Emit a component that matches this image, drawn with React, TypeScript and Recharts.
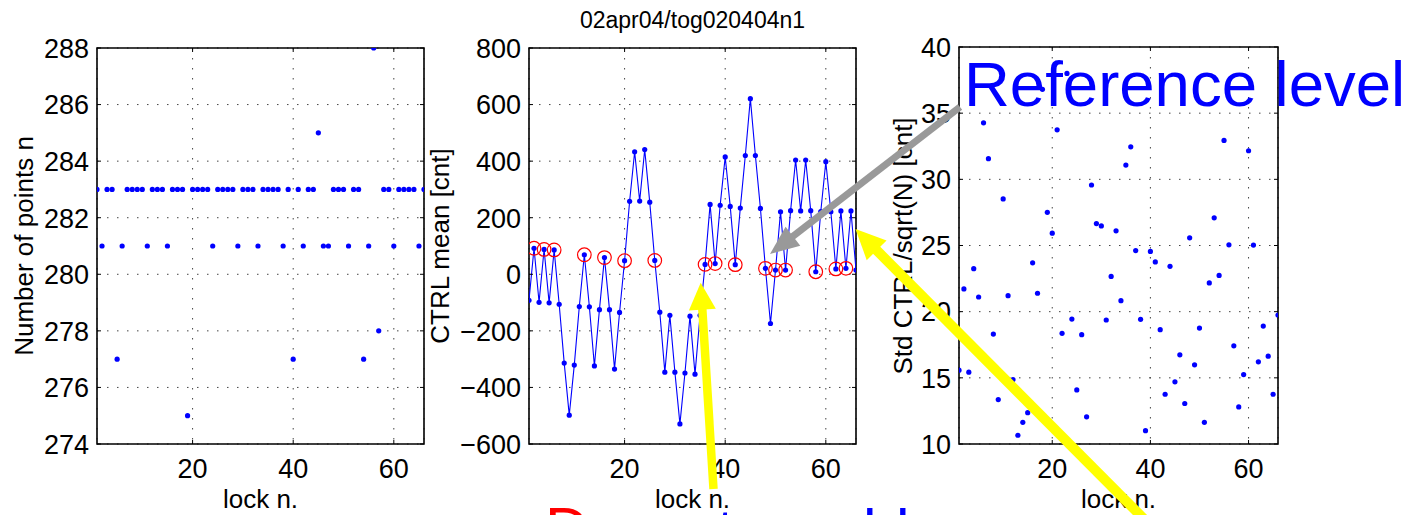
import React from 'react';
import { ComposedChart, Scatter, Line, XAxis, YAxis, CartesianGrid, ReferenceArea } from 'recharts';

const lockN = [1,2,3,4,5,6,7,8,9,10,11,12,13,14,15,16,17,18,19,20,21,22,23,24,25,26,27,28,29,30,31,32,33,34,35,36,37,38,39,40,41,42,43,44,45,46,47,48,49,50,51,52,53,54,55,56,57,58,59,60,61,62,63,64,65,66];

const pointsN = [283,281,283,283,277,281,283,283,283,283,281,283,283,283,281,283,283,283,275,283,283,283,283,281,283,283,283,283,281,283,283,283,281,283,283,283,283,281,283,277,283,281,283,283,285,281,281,283,283,283,281,283,283,277,281,288,278,283,283,281,283,283,283,283,281,283];

const ctrlMean = [-92,92,-99,88,-101,86,-106,-314,-498,-321,-114,69,-115,-324,-125,59,-125,-335,-135,48,258,433,259,441,255,49,-134,-346,-145,-346,-529,-349,-148,-353,-145,35,247,38,244,415,240,34,234,420,621,420,233,21,-174,15,221,15,225,404,224,404,225,9,222,398,221,19,224,21,224,15];

const stdCtrl = [15.58,21.72,15.43,23.25,21.11,34.27,31.56,18.31,13.36,28.52,21.21,14.87,10.66,11.64,12.37,23.69,21.39,36.8,27.51,25.93,33.74,18.36,38.0,19.44,14.09,18.26,12.05,29.57,26.66,26.48,19.37,22.66,26.11,20.83,31.08,32.46,24.62,19.42,11.01,24.55,23.76,18.64,13.76,23.43,14.7,16.74,13.06,25.58,15.98,18.76,11.64,22.17,27.09,22.74,32.94,25.05,17.42,12.8,15.25,32.16,25.03,16.21,18.91,16.64,13.76,19.75];

const refLocks = [2,4,6,12,16,20,26,36,38,42,48,50,52,58,62,64];

const xTicks = [20,40,60];
const nTicks = [274,276,278,280,282,284,286,288];
const ctrlTicks = [-600,-400,-200,0,200,400,600,800];
const stdTicks = [10,15,20,25,30,35,40];

const titleText = '02apr04/tog020404n1';
const xLabel = 'lock n.';
const nLabel = 'Number of points n';
const ctrlLabel = 'CTRL mean [cnt]';
const stdLabel = 'Std CTRL/sqrt(N) [cnt]';

const FONT = '"Liberation Sans", Arial, Helvetica, sans-serif';
const BLUE = '#0000ff';

const nData = lockN.map((l, i) => ({ lock: l, v: pointsN[i] }));
const ctrlData = lockN.map((l, i) => ({ lock: l, v: ctrlMean[i] }));
const refData = refLocks.map((l) => ({ lock: l, v: ctrlMean[lockN.indexOf(l)] }));
const stdData = lockN.map((l, i) => ({ lock: l, v: stdCtrl[i] }));

const fmt = (v: number) => (v < 0 ? '\u2212' + Math.abs(v) : String(v));

const makeXTick = (plotH: number) => (props: any) => {
  const { x, y, payload } = props;
  return (
    <g>
      <line x1={x} x2={x} y1={y} y2={y - 4} stroke="#000" strokeWidth={1} />
      <line x1={x} x2={x} y1={y - plotH} y2={y - plotH + 4} stroke="#000" strokeWidth={1} />
      <text x={x} y={y + 33.5} textAnchor="middle" fontSize={27} fontFamily={FONT} fill="#000">
        {fmt(payload.value)}
      </text>
    </g>
  );
};

const makeYTick = (plotW: number) => (props: any) => {
  const { x, y, payload } = props;
  return (
    <g>
      <line x1={x} x2={x + 4} y1={y} y2={y} stroke="#000" strokeWidth={1} />
      <line x1={x + plotW} x2={x + plotW - 4} y1={y} y2={y} stroke="#000" strokeWidth={1} />
      <text x={x - 8} y={y + 9.8} textAnchor="end" fontSize={27} fontFamily={FONT} fill="#000">
        {fmt(payload.value)}
      </text>
    </g>
  );
};

const dotShape = (p: any) => <circle cx={p.cx} cy={p.cy} r={2.6} fill={BLUE} />;
const ringShape = (p: any) => (
  <circle cx={p.cx} cy={p.cy} r={6.8} fill="none" stroke="#ff0000" strokeWidth={1.2} />
);

type PanelProps = {
  left: number;
  width: number;
  margin: { top: number; right: number; bottom: number; left: number };
  plotW: number;
  plotH: number;
  yDomain: [number, number];
  yTicks: number[];
  children: React.ReactNode;
};

const Panel = ({ left, width, margin, plotW, plotH, yDomain, yTicks, children }: PanelProps) => (
  <div style={{ position: 'absolute', left, top: 0, width, height: 515 }}>
    <ComposedChart width={width} height={515} margin={margin}>
      <CartesianGrid stroke="#444" strokeDasharray="1.5 8.5" strokeWidth={1} />
      <XAxis
        type="number"
        dataKey="lock"
        domain={[1, 66]}
        ticks={xTicks}
        interval={0}
        tickSize={0}
        tickMargin={0}
        axisLine={false}
        tickLine={false}
        height={30}
        tick={makeXTick(plotH)}
        allowDataOverflow
      />
      <YAxis
        type="number"
        domain={yDomain}
        ticks={yTicks}
        interval={0}
        tickSize={0}
        tickMargin={0}
        axisLine={false}
        tickLine={false}
        width={60}
        tick={makeYTick(plotW)}
        allowDataOverflow
      />
      <ReferenceArea
        x1={1}
        x2={66}
        y1={yDomain[0]}
        y2={yDomain[1]}
        fill="none"
        fillOpacity={0}
        stroke="#000"
        strokeWidth={1.6}
        ifOverflow="visible"
      />
      {children}
    </ComposedChart>
  </div>
);

const Arrow = ({ tail, tip, w, headLen, headHalf, color }: { tail: [number, number]; tip: [number, number]; w: number; headLen: number; headHalf: number; color: string }) => {
  const dx = tip[0] - tail[0];
  const dy = tip[1] - tail[1];
  const len = Math.sqrt(dx * dx + dy * dy);
  const ux = dx / len;
  const uy = dy / len;
  const bx = tip[0] - ux * headLen;
  const by = tip[1] - uy * headLen;
  const px = -uy;
  const py = ux;
  const pts = [
    [tip[0], tip[1]],
    [bx + px * headHalf, by + py * headHalf],
    [bx - px * headHalf, by - py * headHalf],
  ]
    .map((p) => p.join(','))
    .join(' ');
  return (
    <g>
      <line x1={tail[0]} y1={tail[1]} x2={bx + ux * 2} y2={by + uy * 2} stroke={color} strokeWidth={w} />
      <polygon points={pts} fill={color} />
    </g>
  );
};

export default function App() {
  return (
    <div style={{ position: 'absolute', left: 0, top: 0, width: 1416, height: 515, background: '#fff', overflow: 'hidden' }}>
      <Panel left={0} width={440} margin={{ top: 48, right: 16, bottom: 41, left: 37 }} plotW={327} plotH={396} yDomain={[274, 288]} yTicks={nTicks}>
        <Scatter data={nData} dataKey="v" shape={dotShape} isAnimationActive={false} />
      </Panel>
      <Panel left={440} width={440} margin={{ top: 48, right: 24, bottom: 41, left: 29 }} plotW={327} plotH={396} yDomain={[-600, 800]} yTicks={ctrlTicks}>
        <Line
          data={ctrlData}
          dataKey="v"
          type="linear"
          stroke={BLUE}
          strokeWidth={1.1}
          dot={{ r: 2.6, fill: BLUE, stroke: BLUE, strokeWidth: 0 }}
          activeDot={false}
          isAnimationActive={false}
        />
        <Scatter data={refData} dataKey="v" shape={ringShape} isAnimationActive={false} />
      </Panel>
      <Panel left={880} width={536} margin={{ top: 47, right: 138, bottom: 41, left: 19 }} plotW={319} plotH={397} yDomain={[10, 40]} yTicks={stdTicks}>
        <Scatter data={stdData} dataKey="v" shape={dotShape} isAnimationActive={false} />
      </Panel>

      <svg width={1416} height={515} style={{ position: 'absolute', left: 0, top: 0, pointerEvents: 'none' }}>
        <g fontFamily={FONT} fill="#000">
          <text x={692.5} y={28} fontSize={23} textAnchor="middle">{titleText}</text>
          <text x={260.5} y={507.5} fontSize={26} textAnchor="middle">{xLabel}</text>
          <text x={692.5} y={507.5} fontSize={26} textAnchor="middle">{xLabel}</text>
          <text x={1118.5} y={507.5} fontSize={26} textAnchor="middle">{xLabel}</text>
          <text x={33} y={246} fontSize={26} textAnchor="middle" transform="rotate(-90 33 246)">{nLabel}</text>
          <text x={449} y={246} fontSize={26} textAnchor="middle" transform="rotate(-90 449 246)">{ctrlLabel}</text>
          <text x={911.5} y={246} fontSize={26} textAnchor="middle" transform="rotate(-90 911.5 246)">{stdLabel}</text>
        </g>
        <Arrow tail={[960, 107]} tip={[770, 254]} w={7} headLen={29} headHalf={12} color="#999999" />
        <Arrow tail={[713.5, 489]} tip={[700.7, 282.7]} w={8.5} headLen={27} headHalf={13.5} color="#ffff00" />
        <Arrow tail={[1146, 521]} tip={[855.5, 229]} w={10} headLen={30} headHalf={14} color="#ffff00" />
        <text x={964} y={106} fontSize={63.5} fill={BLUE} fontFamily={FONT}>Reference level</text>
        <text x={545} y={550} fontSize={61} fill="#ff0000" fontFamily={FONT}>Drawn</text>
        <text x={717} y={552} fontSize={61} fill={BLUE} fontFamily={FONT}>t</text>
        <text x={863} y={552} fontSize={61} fill={BLUE} fontFamily={FONT}>l</text>
        <text x={896} y={552} fontSize={61} fill={BLUE} fontFamily={FONT}>l</text>
      </svg>
    </div>
  );
}
